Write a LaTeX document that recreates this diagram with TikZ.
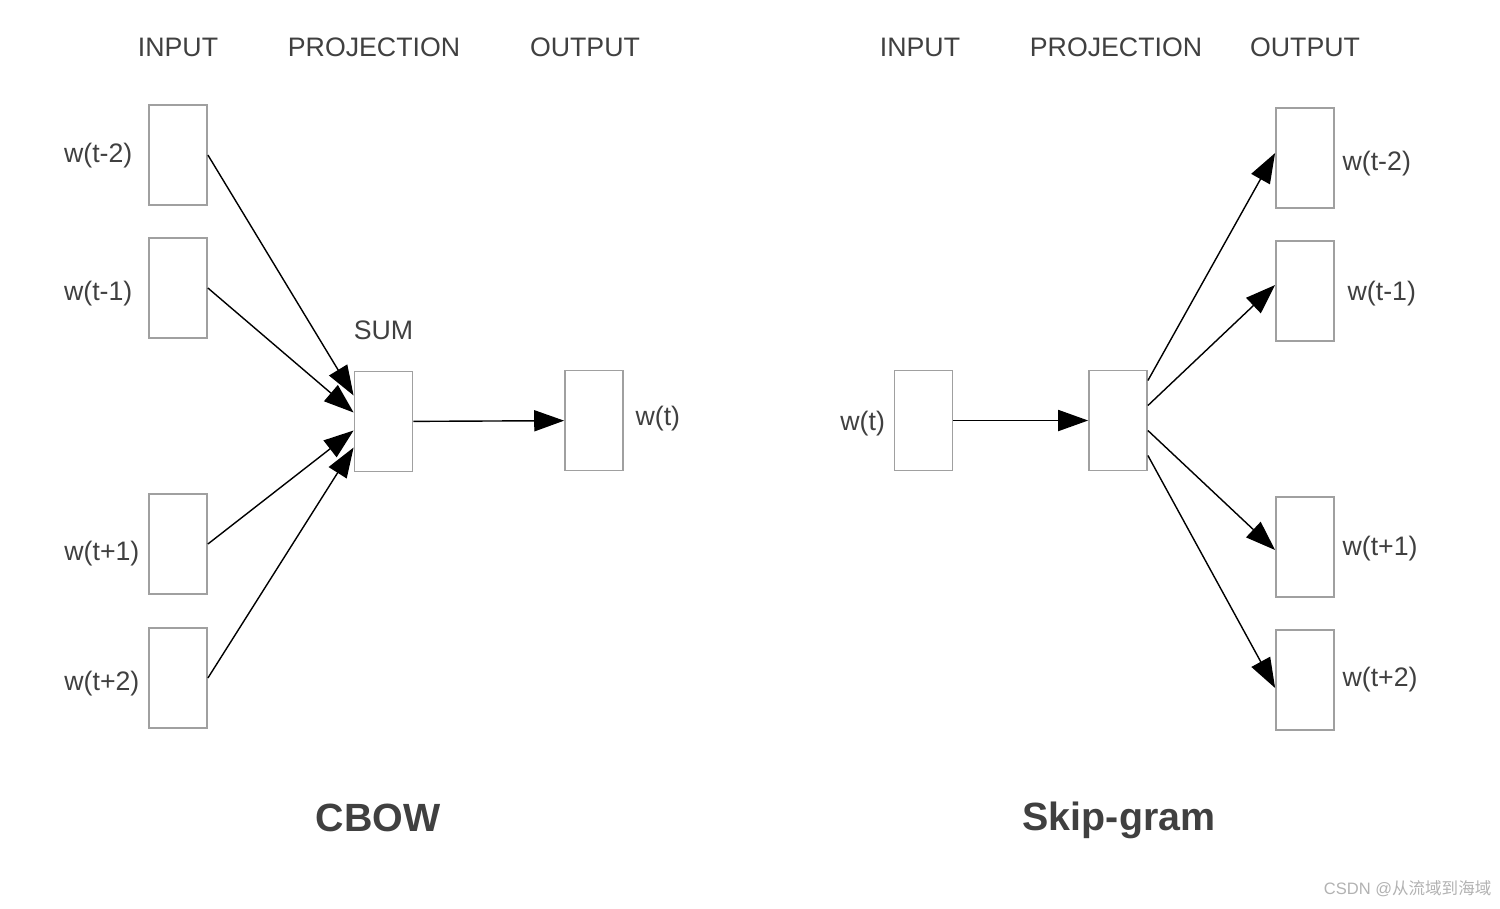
\documentclass[tikz,border=0pt]{standalone}
\usepackage{fontspec}
\setmainfont{Liberation Sans}
\newfontfamily\cjkfont{Noto Sans CJK SC}
\usetikzlibrary{positioning,calc,arrows.meta}
\definecolor{boxgray}{HTML}{A0A0A0}
\definecolor{textgray}{HTML}{404040}
\tikzset{word vector/.style={draw=boxgray, rectangle, minimum width=0.58cm, minimum height=1cm, inner sep=0pt, line width=0.5pt}}
\tikzset{word label/.style={text=textgray, inner sep=0pt, font=\fontsize{7.6}{9}\selectfont}}
\tikzset{model name/.style={text=textgray, inner sep=0pt, font=\fontsize{11.2}{13}\selectfont\bfseries}}
\tikzset{feed/.style={-{Triangle[length=8.5pt,width=6pt]}, black, line width=0.4pt}}

\begin{document}
\begin{tikzpicture}[x=0.01cm, y=-0.01cm]
\useasboundingbox (0,0) rectangle (1500,908);

% CBOW
\node[word label] (cin) at (178,47) {INPUT};
\node[word label] (cproj) at (374,47) {PROJECTION};
\node[word label] (cout) at (585,47) {OUTPUT};

\node[word vector] (in2) at (178,155) {};
\node[word vector] (in1) at (178,288) {};
\node[word vector] (ip1) at (178,544) {};
\node[word vector] (ip2) at (178,678) {};
\node[word label, left=0.15cm of in2, yshift=-0.01cm] {w(t-2)};
\node[word label, left=0.15cm of in1, yshift=-0.06cm] {w(t-1)};
\node[word label, left=0.08cm of ip1, yshift=-0.1cm] {w(t+1)};
\node[word label, left=0.08cm of ip2, yshift=-0.06cm] {w(t+2)};

\node[word vector] (sum) at (383.5,421.5) {};
\node[word label, above=0.3cm of sum] (sumlabel) {SUM};
\node[word vector] (wt) at (594,420.5) {};
\node[word label, right=0.11cm of wt, yshift=0.02cm] {w(t)};

\draw[feed] (in2.east) -- ($(sum.west)+(0,-26)$);
\draw[feed] (in1.east) -- ($(sum.west)+(0,-9)$);
\draw[feed] (ip1.east) -- ($(sum.west)+(0,9)$);
\draw[feed] (ip2.east) -- ($(sum.west)+(0,26)$);
\draw[feed] (sum) -- (wt);

\node[model name] (cbow) at (378,818) {CBOW};

% Skip-gram
\node[word label] (sin) at (920,47) {INPUT};
\node[word label] (sproj) at (1116,47) {PROJECTION};
\node[word label] (sout) at (1305,47) {OUTPUT};

\node[word vector] (st) at (923.5,420.5) {};
\node[word label, left=0.08cm of st, yshift=-0.03cm] {w(t)};
\node[word vector] (hid) at (1118,420.5) {};

\node[word vector] (so2) at (1305,158) {};
\node[word vector] (so1) at (1305,291) {};
\node[word vector] (sp1) at (1305,547) {};
\node[word vector] (sp2) at (1305,680) {};
\node[word label, right=0.07cm of so2, yshift=-0.06cm] {w(t-2)};
\node[word label, right=0.12cm of so1, yshift=-0.03cm] {w(t-1)};
\node[word label, right=0.07cm of sp1, yshift=-0.02cm] {w(t+1)};
\node[word label, right=0.07cm of sp2] {w(t+2)};

\draw[feed] (st) -- (hid);
\draw[feed] ($(hid.east)+(0,-40)$) -- ($(so2.west)+(0,-5)$);
\draw[feed] ($(hid.east)+(0,-15)$) -- ($(so1.west)+(0,-6)$);
\draw[feed] ($(hid.east)+(0,10)$) -- ($(sp1.west)+(0,3)$);
\draw[feed] ($(hid.east)+(0,35)$) -- ($(sp2.west)+(0,8)$);

\node[model name] (skip) at (1119,820) {Skip-gram};

\node[anchor=east, text=gray!60, inner sep=0pt, font=\fontsize{4.7}{6}\selectfont] (mark) at (1492,889) {CSDN @{\cjkfont 从流域到海域}};
\end{tikzpicture}
\end{document}
